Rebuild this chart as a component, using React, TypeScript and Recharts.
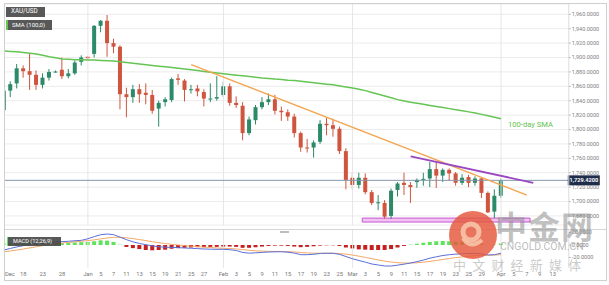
import React from 'react';
import { ComposedChart, Bar, Line, XAxis, YAxis, CartesianGrid, ReferenceLine, ReferenceArea, Cell } from 'recharts';

const dates = [
  '12-15','12-16','12-17','12-18','12-21','12-22','12-23','12-24','12-25','12-28','12-29','12-30','12-31',
  '01-01','01-04','01-05','01-06','01-07','01-08','01-11','01-12','01-13','01-14','01-15','01-18','01-19','01-20','01-21','01-22','01-25','01-26','01-27','01-28','01-29',
  '02-01','02-02','02-03','02-04','02-05','02-08','02-09','02-10','02-11','02-12','02-15','02-16','02-17','02-18','02-19','02-22','02-23','02-24','02-25','02-26',
  '03-01','03-02','03-03','03-04','03-05','03-08','03-09','03-10','03-11','03-12','03-15','03-16','03-17','03-18','03-19','03-22','03-23','03-24','03-25','03-26','03-29','03-30','03-31',
  '04-01','04-02','04-05','04-06','04-07','04-08','04-09','04-12','04-13','04-14','04-15',
];

const opens = [
  1827,1854,1864,1885,1881,1876,1862,1872,1880,1883,1874,1878,1894,
  1901,1905,1944,1951,1920,1915,1849,1845,1856,1851,1848,1829,1838,1841,1871,1868,1855,1857,1852,1842,1843,
  1848,1860,1837,1833,1795,1813,1831,1838,1842,1826,1824,1818,1795,1775,1775,1783,1808,1806,1801,1770,
  1733,1723,1733,1713,1698,1698,1680,1716,1726,1723,1727,1731,1732,1745,1736,1744,1739,1726,1734,1726,1732,1712,1686,
  1708,
];
const highs = [
  1857,1867,1891,1889,1906,1882,1878,1884,1882,1900,1884,1896,1903,
  1902,1945,1952,1959,1926,1917,1858,1862,1863,1864,1855,1840,1845,1872,1877,1870,1862,1862,1856,1864,1874,
  1866,1864,1846,1838,1818,1834,1845,1850,1848,1832,1828,1822,1797,1787,1785,1813,1816,1815,1804,1774,
  1740,1740,1739,1716,1709,1702,1718,1727,1740,1727,1732,1740,1755,1755,1746,1746,1741,1738,1737,1735,1734,1714,1717,
  1732,
];
const lows = [
  1822,1845,1857,1872,1855,1855,1857,1868,1879,1870,1871,1876,1889,
  1898,1900,1935,1901,1906,1828,1817,1837,1837,1835,1822,1804,1832,1838,1862,1839,1850,1846,1832,1838,1840,
  1845,1833,1830,1785,1792,1807,1828,1834,1821,1812,1812,1789,1769,1768,1761,1780,1792,1790,1766,1717,
  1717,1718,1710,1695,1688,1676,1676,1707,1709,1698,1719,1722,1720,1719,1727,1729,1722,1723,1720,1722,1705,1684,1677,
  1705,
];
const closes = [
  1854,1863,1885,1881,1876,1862,1872,1880,1880.5,1874,1878,1893,1900,
  1899,1944,1951,1920,1915,1849,1845,1856,1849,1848,1826,1837,1842,1870,1869,1855,1856,1853,1843,1843,1845,
  1860,1837,1834,1795,1814,1831,1838,1842,1826,1824,1818,1795,1775,1774,1782,1808,1806,1801,1770,1730,
  1723,1733,1713,1698,1699,1679,1715,1725,1723,1720,1730,1731.5,1745,1736,1744,1739,1726,1733,1726,1732,1712,1685,1708,
  1729.42,
];
const sma100 = [
  1909,1908.5,1908,1907,1906,1905,1903,1901,1899.5,1898,1897.5,1897,1897,
  1896.5,1896.5,1896,1895.5,1895,1894,1893,1892,1891,1890,1889,1888,1887,1886,1885,1884,1883,1882,1880.5,1879.5,1878.5,
  1877.5,1876.5,1875.5,1874.5,1873.5,1872.5,1871.5,1871,1870,1869.5,1868.5,1868,1867,1866,1865,1864,1863,1862,1860.5,1859,
  1857.5,1856,1854,1851.5,1849,1846.5,1844,1841.5,1839.5,1838,1836.5,1835,1833.5,1832,1830.5,1829,1827.5,1826,1824.5,1823,1821,1819,1817,
  1815,
];
const macdLine = [
  -8,-5.5,-3,-1,0.8,2.2,3.5,4.5,5,5.4,6,6.8,7.5,
  10,13.5,16.5,17.6,16.5,12.5,8.5,5,2.5,0.5,-1.5,-2.8,-3.5,-3.8,-4.2,-4.8,-5.2,-5.8,-6.4,-6.7,-6.9,
  -6.9,-7.5,-8.8,-12,-13,-12.5,-11.8,-11.2,-10.9,-10.8,-11.5,-13,-15.5,-15.5,-14.8,-13.5,-13.2,-13.3,-15,-18.5,
  -22,-24.8,-27.5,-30.4,-32,-33.6,-33.6,-32.2,-30.6,-28.8,-26.6,-24,-21,-18.8,-16.8,-15.5,-14.6,-14,-13.6,-13.4,-14.2,-16,-15.4,
  -13.2,
];
const signalLine = [
  -10.7,-9.5,-8,-6.4,-4.6,-2.8,-1,0.6,2,3.2,4.2,5,6,
  7,8.3,9.8,11.2,12.3,12.4,11.5,10.2,8.7,7,5.3,3.7,2.3,1,0,-1,-1.8,-2.6,-3.4,-4.1,-4.7,
  -5.2,-5.7,-6.3,-7.4,-8.5,-9.3,-9.8,-10.1,-10.3,-10.4,-10.6,-11.1,-12,-12.7,-13.1,-13.2,-13.2,-13.2,-13.6,-14.6,
  -16.1,-17.9,-19.8,-21.9,-23.9,-25.8,-27.3,-28.3,-28.8,-28.8,-28.4,-27.5,-26.2,-24.7,-23.1,-21.6,-20.2,-19,-17.9,-17,-16.4,-16.3,-16.1,
  -15.5,
];
const macdHist = [
  2.5,3.5,4.5,5,5,4.8,4.5,4,3.5,3,3.5,4,4.5,
  5,6,7.5,7,5,0.5,-3,-5,-6.5,-8,-8.5,-8,-7.5,-6,-5,-4.5,-4,-3.5,-3.5,-3,-3,
  -2.5,-2.5,-3,-4.5,-4.5,-3.5,-2.5,-1.5,-1,-1,-1.5,-2.5,-3.5,-3,-2,-1,-0.5,-0.5,-1.5,-4,
  -5.5,-7,-7.5,-8,-8,-8,-6.5,-4,-1.5,0.5,2,3.5,5,6,6.5,6,5.5,5,4.5,3.5,2,0.3,0.5,
  2.5,
];

const priceTicks = [1680,1700,1720,1740,1760,1780,1800,1820,1840,1860,1880,1900,1920,1940,1960];
const macdTicks = [-20, 0, 20];
const xTickKeys = ['12-15','12-18','12-23','12-28','01-01','01-05','01-07','01-11','01-13','01-15','01-19','01-21','01-25','01-27',
  '02-01','02-03','02-05','02-09','02-11','02-15','02-17','02-19','02-23','02-25',
  '03-01','03-03','03-05','03-09','03-11','03-15','03-17','03-19','03-23','03-25','03-29',
  '04-01','04-05','04-07','04-09','04-13'];
const xTickLabels = ['Dec','18','23','28','Jan','5','7','11','13','15','19','21','25','27',
  'Feb','3','5','9','11','15','17','19','23','25',
  'Mar','3','5','9','11','15','17','19','23','25','29',
  'Apr','5','7','9','13'];
const monthStarts = ['01-01','02-01','03-01','04-01'];
const lastPrice = 1729.42;
const orangeTrend = [{ x: '01-25', y: 1890 }, { x: '04-07', y: 1709 }];
const purpleTrend = [{ x: '03-12', y: 1762.6 }, { x: '04-08', y: 1726 }];
const supportZone = { x1: '03-03', x2: '04-07', y1: 1671.5, y2: 1677 };

const GREEN = '#2c8a69';
const RED = '#d0553e';
const FONT = 'Roboto, "Noto Sans", Arial, sans-serif';

const rows = dates.map((d, i) =>
  i < opens.length
    ? { d, o: opens[i], h: highs[i], l: lows[i], c: closes[i], range: [lows[i], highs[i]], sma: sma100[i], macd: macdLine[i], signal: signalLine[i], hist: macdHist[i] }
    : { d }
);

const labelMap: Record<string, string> = {};
xTickKeys.forEach((k, i) => { labelMap[k] = xTickLabels[i]; });

const fmt = (v: number) => v.toLocaleString('en-US', { minimumFractionDigits: 4, maximumFractionDigits: 4 });

const Candle = (props: any) => {
  const { x, y, width, height, payload } = props;
  if (!payload || payload.o == null) return null;
  const { o, h, l, c } = payload;
  const top = Math.min(y, y + height);
  const hh = Math.abs(height);
  const k = h - l === 0 ? 0 : hh / (h - l);
  const yOf = (v: number) => top + (h - v) * k;
  const color = c >= o ? GREEN : RED;
  const bTop = yOf(Math.max(o, c));
  const bBot = yOf(Math.min(o, c));
  const cx = x + width / 2;
  return (
    <g>
      <line x1={cx} x2={cx} y1={top} y2={top + hh} stroke={color} strokeWidth={1} />
      <rect x={x} y={bTop} width={width} height={Math.max(1, bBot - bTop)} fill={color} />
    </g>
  );
};

const XTick = (props: any) => {
  const { x, y, payload, index } = props;
  const t = labelMap[payload.value] ?? '';
  return (
    <text x={index === 0 ? x + 1 : x} y={y + 7.5} textAnchor={index === 0 ? 'start' : 'middle'} fontSize={5.8} fill="#777" fontFamily={FONT}>{t}</text>
  );
};

const PriceTag = (props: any) => {
  const vb = props.viewBox || {};
  const x = (vb.x || 0) + (vb.width || 0);
  const y = vb.y || 0;
  return (
    <g>
      <rect x={x - 1} y={y - 5} width={32} height={10} fill="#1f2d4b" />
      <text x={x + 15} y={y + 2} textAnchor="middle" fontSize={5.6} fill="#fff" fontFamily={FONT} fontWeight={700}>{fmt(lastPrice)}</text>
    </g>
  );
};

const MARGIN_LEFT = 0.77;
const AXIS_W = 40.2;

const boxStyle: React.CSSProperties = {
  position: 'absolute', background: 'rgba(70,70,70,0.9)', color: '#fff', fontFamily: FONT,
  fontSize: 6, lineHeight: '9px', paddingLeft: 5, boxSizing: 'border-box', whiteSpace: 'nowrap',
};

export default function App() {
  return (
    <div style={{ position: 'absolute', left: 0, top: 0, width: 609, height: 285, background: '#fff', overflow: 'hidden' }}>
      <div style={{ position: 'absolute', left: 5, top: 4, width: 601, height: 276, overflow: 'hidden' }}>
        <div style={{ position: 'absolute', left: -5, top: -4 }}>
          <ComposedChart width={609} height={226} data={rows} margin={{ top: 4, right: 0, bottom: 1, left: MARGIN_LEFT }}>
            <CartesianGrid horizontal vertical={false} stroke="#ececec" />
            <XAxis dataKey="d" hide />
            <YAxis orientation="right" width={AXIS_W} type="number" domain={[1667.4, 1974.3]} ticks={priceTicks} interval={0} allowDataOverflow
              tickFormatter={fmt} tick={{ fontSize: 5.5, fill: '#808080', fontFamily: FONT }} tickSize={2} tickMargin={1}
              axisLine={{ stroke: '#dcdcdc' }} tickLine={{ stroke: '#bbb' }} />
            {monthStarts.map((m) => (
              <ReferenceLine key={m} x={m} stroke="#e6e6e6" />
            ))}
            <ReferenceArea x1={supportZone.x1} x2={supportZone.x2} y1={supportZone.y1} y2={supportZone.y2} fill="#f3c2f3" fillOpacity={1} stroke="#c45ad0" strokeWidth={1} />
            <ReferenceLine y={lastPrice} stroke="#8496ad" strokeWidth={1} label={<PriceTag />} />
            <Line dataKey="sma" stroke="#66c453" strokeWidth={1.5} dot={false} isAnimationActive={false} />
            <Bar dataKey="range" barSize={4} shape={<Candle />} isAnimationActive={false} />
            <ReferenceLine segment={orangeTrend} stroke="#f2a652" strokeWidth={1.4} />
            <ReferenceLine segment={purpleTrend} stroke="#9a47c2" strokeWidth={1.8} />
          </ComposedChart>
        </div>
        <div style={{ position: 'absolute', left: -5, top: 221 }}>
          <ComposedChart width={609} height={60} data={rows} margin={{ top: 4, right: 0, bottom: 5, left: MARGIN_LEFT }}>
            <XAxis dataKey="d" ticks={xTickKeys} interval={0} tick={<XTick />} tickLine={false} axisLine={false} height={12} tickSize={0} tickMargin={0} />
            <YAxis orientation="right" width={AXIS_W} type="number" domain={[-36.8, 25.6]} ticks={macdTicks} interval={0} allowDataOverflow
              tickFormatter={fmt} tick={{ fontSize: 5.5, fill: '#808080', fontFamily: FONT }} tickSize={2} tickMargin={1}
              axisLine={{ stroke: '#dcdcdc' }} tickLine={{ stroke: '#bbb' }} />
            {monthStarts.map((m) => (
              <ReferenceLine key={m} x={m} stroke="#e6e6e6" />
            ))}
            <Bar dataKey="hist" barSize={4} isAnimationActive={false}>
              {rows.map((r: any, i) => (
                <Cell key={i} fill={(r.hist ?? 0) >= 0 ? '#5fe35a' : '#c61f1f'} />
              ))}
            </Bar>
            <Line dataKey="signal" stroke="#f2a96a" strokeWidth={1} dot={false} isAnimationActive={false} />
            <Line dataKey="macd" stroke="#5a6fd8" strokeWidth={1} dot={false} isAnimationActive={false} />
          </ComposedChart>
        </div>
      </div>

      <div style={{ position: 'absolute', left: 4, top: 229, width: 603, height: 1, background: '#d6d6d6' }} />
      <div style={{ position: 'absolute', left: 280, top: 230.5, width: 9, height: 2, background: '#bdbdbd' }} />

      <div style={{ ...boxStyle, left: 6, top: 7, width: 39, height: 10, fontSize: 6.3 }}>XAU/USD</div>
      <div style={{ ...boxStyle, left: 6, top: 20, width: 46, height: 10, borderLeft: '2px solid #66c453', paddingLeft: 4 }}>SMA (100,0)</div>
      <div style={{ ...boxStyle, left: 7, top: 237, width: 54, height: 9, lineHeight: '9px', borderLeft: '1px solid #5fe35a', fontSize: 5.6 }}>MACD (12,26,9)</div>
      <div style={{ position: 'absolute', left: 508, top: 120, fontFamily: FONT, fontSize: 7.6, color: '#5fc24c', whiteSpace: 'nowrap' }}>100-day SMA</div>

      <svg style={{ position: 'absolute', left: 0, top: 0, pointerEvents: 'none' }} width={609} height={285}>
        <circle cx={473} cy={235} r={24} fill="#e5573c" opacity={0.82} />
        <circle cx={471} cy={232} r={8} fill="none" stroke="#f8c3a8" strokeWidth={5} opacity={0.9} />
        <path d="M 463 238 Q 470 250 482 240" fill="none" stroke="#f8c3a8" strokeWidth={4} opacity={0.9} />
      </svg>
      <div style={{ position: 'absolute', left: 495, top: 208, fontFamily: '"Noto Sans CJK SC", sans-serif', fontSize: 32, lineHeight: '34px', fontWeight: 700, color: 'rgba(140,140,140,0.55)', whiteSpace: 'nowrap', letterSpacing: 1 }}>中金网</div>
      <div style={{ position: 'absolute', left: 500, top: 241, fontFamily: FONT, fontSize: 10.5, lineHeight: '12px', color: 'rgba(140,140,140,0.6)', whiteSpace: 'nowrap' }}>CNGOLD.COM.CN</div>
      <div style={{ position: 'absolute', left: 453, top: 257, fontFamily: '"Noto Sans CJK SC", sans-serif', fontSize: 13, lineHeight: '15px', color: 'rgba(150,150,150,0.5)', whiteSpace: 'nowrap', letterSpacing: 6.2 }}>中文财经新媒体</div>

      <div style={{ position: 'absolute', left: 4, top: 3, width: 603, height: 278, border: '1px solid #cfcfcf', boxSizing: 'border-box', pointerEvents: 'none' }} />
    </div>
  );
}
